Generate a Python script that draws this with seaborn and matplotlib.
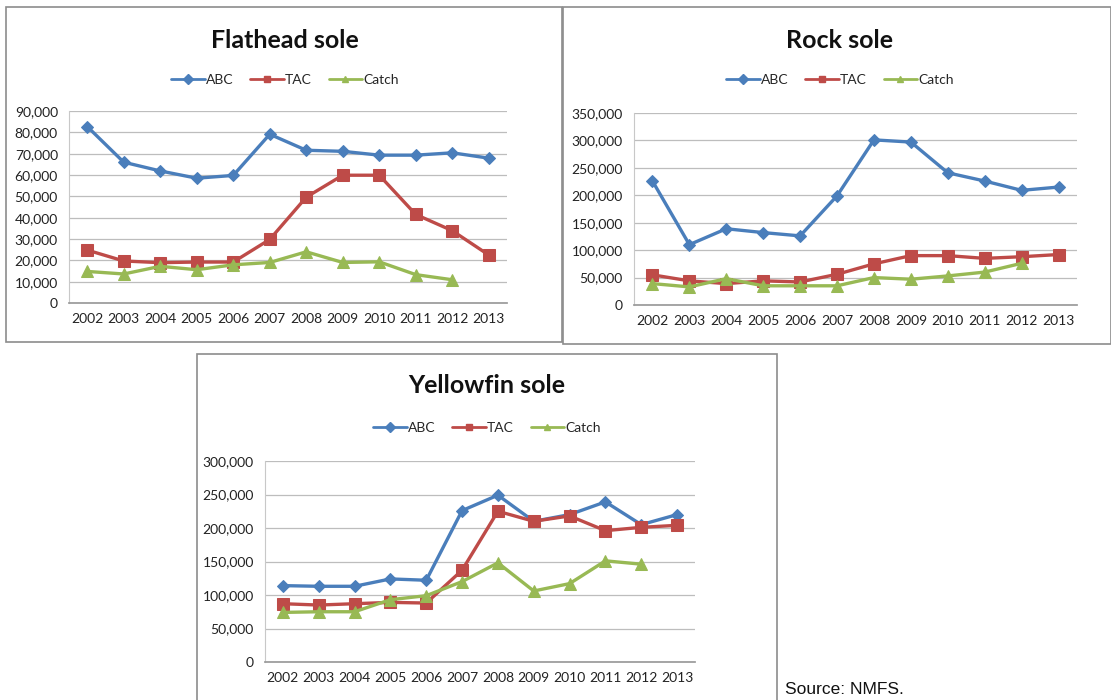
import matplotlib
matplotlib.use("Agg")
import matplotlib.pyplot as plt
from matplotlib.lines import Line2D
from matplotlib.patches import Rectangle
from matplotlib.ticker import FuncFormatter
import numpy as np
import pandas as pd
import seaborn as sns

# ---- data (metric tons) ----
years = [2002, 2003, 2004, 2005, 2006, 2007, 2008, 2009, 2010, 2011, 2012, 2013]

flathead_abc = [82700, 66000, 61900, 58500, 59800, 79100, 71600, 71100, 69300, 69300, 70400, 67900]
flathead_tac = [24800, 19700, 18900, 19200, 19200, 29800, 49600, 59900, 59900, 41500, 33900, 22500]
flathead_catch = [14800, 13600, 17200, 15600, 17900, 19000, 24000, 19000, 19300, 13300, 10900, None]

rock_abc = [226000, 110000, 139000, 132000, 126000, 199000, 301000, 297000, 241000, 226000, 209000, 215000]
rock_tac = [55000, 44000, 39000, 44000, 42000, 56000, 75000, 90000, 90000, 85000, 88000, 92000]
rock_catch = [39000, 33000, 48000, 35000, 35000, 35000, 50000, 47000, 53000, 60000, 76000, None]

yellowfin_abc = [114000, 113000, 113000, 124000, 122000, 226000, 249000, 210000, 220000, 239000, 205000, 220000]
yellowfin_tac = [87000, 85000, 87000, 89000, 88000, 137000, 225000, 210000, 218000, 196000, 201000, 204000]
yellowfin_catch = [74000, 75000, 75000, 93000, 99000, 120000, 148000, 106000, 117000, 151000, 146000, None]

series_names = ["ABC", "TAC", "Catch"]
colors = {"ABC": "#4A7EBB", "TAC": "#BE4B48", "Catch": "#98B954"}
markers = {"ABC": "D", "TAC": "s", "Catch": "^"}
msizes = {"ABC": 6.5, "TAC": 8.5, "Catch": 8.5}

W, H = 1111, 700


def fx(px):
    return px / W


def fy(py):
    return 1 - py / H


def make_df(abc, tac, catch):
    df = pd.DataFrame({"Year": years, "ABC": abc, "TAC": tac, "Catch": catch})
    return df.melt(id_vars="Year", var_name="Series", value_name="Tons")


sns.set_theme(style="white")
plt.rcParams["font.family"] = ["Lato", "DejaVu Sans"]

fig = plt.figure(figsize=(W / 100, H / 100), dpi=100)
fig.patch.set_facecolor("white")

panels = [
    dict(title="Flathead sole", data=make_df(flathead_abc, flathead_tac, flathead_catch),
         box=(6, 7, 562, 342), ax=(69, 111, 507, 303), ymax=90000, step=10000,
         title_xy=(285, 40), leg_xy=(285, 80), xticks_between=False),
    dict(title="Rock sole", data=make_df(rock_abc, rock_tac, rock_catch),
         box=(563, 7, 1111, 344), ax=(634, 113, 1077, 305), ymax=350000, step=50000,
         title_xy=(840, 40), leg_xy=(840, 80), xticks_between=False),
    dict(title="Yellowfin sole", data=make_df(yellowfin_abc, yellowfin_tac, yellowfin_catch),
         box=(197, 354, 777, 712), ax=(265, 461, 695, 662), ymax=300000, step=50000,
         title_xy=(487, 385), leg_xy=(487, 428), xticks_between=True),
]

for p in panels:
    x0, y0, x1, y1 = p["box"]
    fig.patches.append(Rectangle((fx(x0), fy(y1)), fx(x1 - x0), (y1 - y0) / H,
                                 transform=fig.transFigure, fill=False,
                                 edgecolor="#8c8c8c", linewidth=1.2, zorder=0))

    l, t, r, b = p["ax"]
    ax = fig.add_axes([fx(l), fy(b), fx(r - l), (b - t) / H])
    ax.set_facecolor("none")

    for name in series_names:
        sub = p["data"][p["data"]["Series"] == name].dropna()
        sns.lineplot(data=sub, x="Year", y="Tons", ax=ax, color=colors[name],
                     marker=markers[name], markersize=msizes[name],
                     markeredgecolor=colors[name], linewidth=2.4, legend=False)

    ax.set_xlim(years[0] - 0.5, years[-1] + 0.5)
    ax.set_ylim(0, p["ymax"])
    ax.set_yticks(np.arange(0, p["ymax"] + 1, p["step"]))
    ax.yaxis.set_major_formatter(FuncFormatter(lambda v, pos: f"{int(v):,}"))
    ax.set_xticks(years)
    ax.set_xticklabels([str(y) for y in years])
    ax.grid(axis="y", color="#bdbdbd", linewidth=0.9)
    ax.set_axisbelow(True)
    ax.set_xlabel("")
    ax.set_ylabel("")
    for s in ["top", "right"]:
        ax.spines[s].set_visible(False)
    ax.spines["bottom"].set_color("#9a9a9a")
    ax.spines["left"].set_color("#c8c8c8")
    ax.spines["left"].set_linewidth(0.8)
    ax.tick_params(axis="y", length=0, pad=8, labelsize=10, colors="#222222")
    ax.tick_params(axis="x", length=0, pad=7, labelsize=10, colors="#222222")
    if p["xticks_between"]:
        ax.set_xticks(np.arange(years[0] - 0.5, years[-1] + 1, 1.0), minor=True)
        ax.tick_params(axis="x", which="minor", length=5, color="#9a9a9a", direction="out")

    fig.text(fx(p["title_xy"][0]), fy(p["title_xy"][1]), p["title"], ha="center",
             va="center", fontsize=18, fontweight="bold", color="#111111")

    handles = [Line2D([0], [0], color=colors[n], marker=markers[n], markersize=5,
                      linewidth=2.0) for n in series_names]
    fig.legend(handles, series_names, loc="center",
               bbox_to_anchor=(fx(p["leg_xy"][0]), fy(p["leg_xy"][1])),
               ncol=3, frameon=False, fontsize=10, handlelength=2.4,
               handletextpad=0.1, columnspacing=1.2)

fig.text(fx(785), fy(682), "Source: NMFS.", ha="left", va="top", fontsize=12.5,
         family=["Liberation Sans", "DejaVu Sans"], color="#111111")

plt.savefig("out.png", dpi=100)
plt.close()
